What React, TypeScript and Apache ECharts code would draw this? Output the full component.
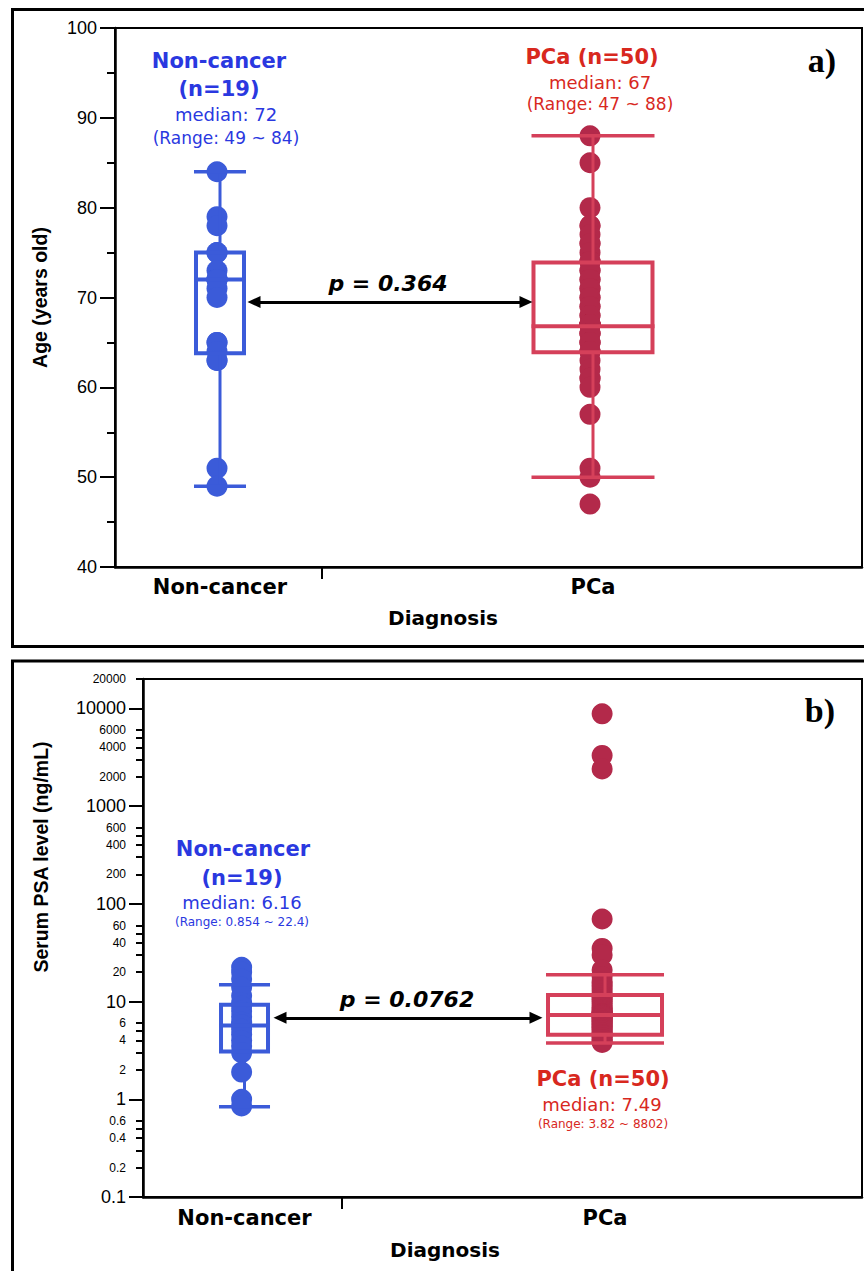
import React, { useEffect, useRef } from "react";
import * as echarts from "echarts";

// ---------------- data ----------------
const CATEGORIES = ["Non-cancer", "PCa"];
const CATEGORY_POS = [1, 2];

const AGE_NONCANCER = [84, 79, 78, 75, 75, 73, 72, 72, 72, 72, 71, 70, 65, 65, 64, 63, 63, 51, 49];
const AGE_PCA = [
  88, 85, 80, 78, 78, 77, 76, 76, 75, 74, 74, 74, 73, 73, 72, 72, 71, 71, 70, 70,
  69, 69, 68, 68, 67, 67, 67, 67, 67, 67, 67, 67, 66, 66, 66, 65, 65, 65, 64, 64,
  64, 63, 62, 61, 61, 60, 57, 51, 50, 47,
];
// [whisker low, Q1, median, Q3, whisker high]
const AGE_BOX_NONCANCER = [49, 63.8, 72, 75, 84];
const AGE_BOX_PCA = [50, 63.9, 66.8, 73.9, 88];

const PSA_NONCANCER = [22.4, 20, 17, 14, 11.5, 9.8, 9, 8, 7, 6.16, 5.8, 5.2, 4.6, 4, 3.5, 3, 1.9, 1, 0.854];
const PSA_PCA = [
  8802, 3300, 2400, 70, 35, 30, 21, 18, 16, 15, 14, 13, 12, 11.5, 11, 10.5, 10, 9.5, 9.0, 8.6,
  8.3, 8.0, 7.8, 7.6, 7.5, 7.48, 7.45, 7.4, 7.35, 7.3, 7.2, 7.1, 7.0, 6.8, 6.6, 6.4, 6.2, 6.0,
  5.8, 5.6, 5.4, 5.2, 5.0, 4.8, 4.6, 4.5, 4.3, 4.1, 3.9, 3.82,
];
const PSA_BOX_NONCANCER = [0.84, 3.08, 5.7, 9.27, 14.9];
const PSA_BOX_PCA = [3.76, 4.57, 7.3, 11.7, 18.8];

const AGE_TICKS = { min: 40, max: 100, interval: 10 };
const PSA_MAJOR_TICKS = [0.1, 1, 10, 100, 1000, 10000];
const PSA_MINOR_LABELED = [0.2, 0.4, 0.6, 2, 4, 6, 20, 40, 60, 200, 400, 600, 2000, 4000, 6000, 20000];
const PSA_MINOR_UNLABELED = [0.3, 0.5, 3, 5, 30, 50, 300, 500, 3000, 5000];

const AGE_P = "p = 0.364";
const PSA_P = "p = 0.0762";
const ARROW_AGE = { from: 1.0912, to: 1.8204, y: 69.5 };
const ARROW_PSA = { from: 1.0985, to: 1.8086, y: 6.82 };

// ---------------- style ----------------
const BLUE_TEXT = "#2a38e0";
const BLUE_MARK = "#3b5bd9";
const RED_TEXT = "#d8281e";
const RED_DOT = "#b3294a";
const RED_BOX = "#d5405a";
const ANNOT_FONT = "DejaVu Sans";
const AXIS_FONT = "Liberation Sans";
const DOT_DX = -0.008;

function boxRenderer(widths: number[], colors: string[]) {
  return (params: any, api: any) => {
    const idx = params.dataIndex;
    const x = api.value(0);
    const ys = [1, 2, 3, 4, 5].map((i) => api.coord([x, api.value(i)])[1]);
    const cx = api.coord([x, api.value(3)])[0];
    const [yLo, yQ1, yMed, yQ3, yHi] = ys;
    const hw = widths[idx] / 2;
    const c = colors[idx];
    const bw = 4;
    const ww = 3;
    const st = (lw: number) => ({ stroke: c, lineWidth: lw, fill: "none" });
    return {
      type: "group",
      children: [
        { type: "line", shape: { x1: cx, y1: yHi, x2: cx, y2: yQ3 }, style: st(ww) },
        { type: "line", shape: { x1: cx, y1: yQ1, x2: cx, y2: yLo }, style: st(ww) },
        { type: "line", shape: { x1: cx - hw, y1: yHi, x2: cx + hw, y2: yHi }, style: st(ww + 0.5) },
        { type: "line", shape: { x1: cx - hw, y1: yLo, x2: cx + hw, y2: yLo }, style: st(ww + 0.5) },
        {
          type: "rect",
          shape: { x: cx - hw + bw / 2, y: yQ3, width: 2 * hw - bw, height: yQ1 - yQ3 },
          style: st(bw),
        },
        { type: "line", shape: { x1: cx - hw, y1: yMed, x2: cx + hw, y2: yMed }, style: st(bw) },
      ],
    };
  };
}

function txt(text: string, x: number, y: number, color: string, size: number, weight = "normal", extra: any = {}, rotation = 0) {
  return {
    type: "text",
    x,
    y,
    z: 10,
    rotation,
    style: {
      text,
      fill: color,
      fontSize: size,
      fontWeight: weight,
      fontFamily: ANNOT_FONT,
      align: "center",
      verticalAlign: "middle",
      ...extra,
    },
  };
}

const fmtNum = (v: number) => String(Number(Number(v).toPrecision(6)));

function xAxisCfg(gridIndex: number, min: number, max: number, tickAt: number, margin: number) {
  return {
    type: "value",
    gridIndex,
    min,
    max,
    axisLine: { show: true, onZero: false, lineStyle: { color: "#000", width: 2.5 } },
    axisTick: { show: true, customValues: [tickAt], length: 12, lineStyle: { color: "#000", width: 2 } },
    axisLabel: {
      customValues: CATEGORY_POS,
      formatter: (v: number) => CATEGORIES[Math.round(v) - 1] ?? "",
      fontFamily: ANNOT_FONT,
      fontWeight: "bold",
      fontSize: 21,
      color: "#000",
      margin,
    },
    splitLine: { show: false },
  };
}

const nameStyle = { fontFamily: AXIS_FONT, fontWeight: "bold", fontSize: 19.5, color: "#000" };

const option: any = {
  animation: false,
  grid: [
    { left: 115, top: 28, width: 747, height: 539, show: true, borderColor: "#000", borderWidth: 2 },
    { left: 143, top: 679, width: 719, height: 518, show: true, borderColor: "#000", borderWidth: 2 },
  ],
  xAxis: [xAxisCfg(0, 0.7185, 2.7212, 1.2735, 9), xAxisCfg(1, 0.7184, 2.7129, 1.2705, 10)],
  yAxis: [
    {
      type: "value",
      gridIndex: 0,
      position: "left",
      min: AGE_TICKS.min,
      max: AGE_TICKS.max,
      interval: AGE_TICKS.interval,
      name: "Age (years old)",
      nameLocation: "middle",
      nameRotate: 90,
      nameGap: 65,
      nameTextStyle: nameStyle,
      axisLine: { show: true, onZero: false, lineStyle: { color: "#000", width: 2.5 } },
      axisTick: { show: true, length: 15, lineStyle: { color: "#000", width: 2 } },
      minorTick: { show: true, splitNumber: 2, length: 8, lineStyle: { color: "#000", width: 2 } },
      axisLabel: { fontFamily: AXIS_FONT, fontSize: 18, color: "#000", margin: 18 },
      splitLine: { show: false },
      minorSplitLine: { show: false },
    },
    {
      type: "log",
      logBase: 10,
      gridIndex: 1,
      position: "left",
      min: 0.1,
      max: 20000,
      axisLine: { show: true, onZero: false, lineStyle: { color: "#000", width: 2.5 } },
      axisTick: { show: true, customValues: PSA_MAJOR_TICKS, length: 14, lineStyle: { color: "#000", width: 2 } },
      axisLabel: {
        customValues: PSA_MAJOR_TICKS,
        formatter: fmtNum,
        fontFamily: AXIS_FONT,
        fontSize: 18,
        color: "#000",
        margin: 17,
      },
      splitLine: { show: false },
    },
    {
      type: "log",
      logBase: 10,
      gridIndex: 1,
      position: "left",
      offset: 0,
      min: 0.1,
      max: 20000,
      axisLine: { show: false },
      axisTick: {
        show: true,
        customValues: [...PSA_MINOR_LABELED, ...PSA_MINOR_UNLABELED],
        length: 7,
        lineStyle: { color: "#000", width: 2 },
      },
      axisLabel: {
        customValues: PSA_MINOR_LABELED,
        formatter: fmtNum,
        fontFamily: AXIS_FONT,
        fontSize: 12,
        color: "#000",
        margin: 17,
      },
      splitLine: { show: false },
    },
  ],
  series: [
    {
      type: "scatter",
      xAxisIndex: 0,
      yAxisIndex: 0,
      z: 2,
      symbolSize: 21,
      itemStyle: { color: BLUE_MARK, opacity: 1 },
      data: AGE_NONCANCER.map((v) => [CATEGORY_POS[0] + DOT_DX, v]),
    },
    {
      type: "scatter",
      xAxisIndex: 0,
      yAxisIndex: 0,
      z: 2,
      symbolSize: 21,
      itemStyle: { color: RED_DOT, opacity: 1 },
      data: AGE_PCA.map((v) => [CATEGORY_POS[1] + DOT_DX, v]),
      markLine: {
        silent: true,
        symbol: ["triangle", "triangle"],
        symbolSize: [12, 13],
        label: { show: false },
        lineStyle: { color: "#000", width: 3, type: "solid" },
        data: [[{ coord: [ARROW_AGE.from, ARROW_AGE.y] }, { coord: [ARROW_AGE.to, ARROW_AGE.y] }]],
      },
    },
    {
      type: "custom",
      xAxisIndex: 0,
      yAxisIndex: 0,
      z: 3,
      renderItem: boxRenderer([52, 123], [BLUE_MARK, RED_BOX]),
      encode: { x: 0, y: [1, 2, 3, 4, 5] },
      data: [
        [CATEGORY_POS[0], ...AGE_BOX_NONCANCER],
        [CATEGORY_POS[1], ...AGE_BOX_PCA],
      ],
    },
    {
      type: "scatter",
      xAxisIndex: 1,
      yAxisIndex: 1,
      z: 2,
      symbolSize: 21,
      itemStyle: { color: BLUE_MARK, opacity: 1 },
      data: PSA_NONCANCER.map((v) => [CATEGORY_POS[0] + DOT_DX, v]),
    },
    {
      type: "scatter",
      xAxisIndex: 1,
      yAxisIndex: 1,
      z: 2,
      symbolSize: 21,
      itemStyle: { color: RED_DOT, opacity: 1 },
      data: PSA_PCA.map((v) => [CATEGORY_POS[1] + DOT_DX, v]),
      markLine: {
        silent: true,
        symbol: ["triangle", "triangle"],
        symbolSize: [12, 13],
        label: { show: false },
        lineStyle: { color: "#000", width: 3, type: "solid" },
        data: [[{ coord: [ARROW_PSA.from, ARROW_PSA.y] }, { coord: [ARROW_PSA.to, ARROW_PSA.y] }]],
      },
    },
    {
      type: "custom",
      xAxisIndex: 1,
      yAxisIndex: 1,
      z: 3,
      renderItem: boxRenderer([51, 118], [BLUE_MARK, RED_BOX]),
      encode: { x: 0, y: [1, 2, 3, 4, 5] },
      data: [
        [CATEGORY_POS[0], ...PSA_BOX_NONCANCER],
        [CATEGORY_POS[1], ...PSA_BOX_PCA],
      ],
    },
  ],
  graphic: [
    { type: "rect", z: -1, shape: { x: 12.5, y: 9.5, width: 900, height: 637 }, style: { fill: "none", stroke: "#000", lineWidth: 3 } },
    { type: "rect", z: -1, shape: { x: 12.5, y: 661, width: 900, height: 700 }, style: { fill: "none", stroke: "#000", lineWidth: 3 } },
    // panel a
    txt("Non-cancer", 219, 61, BLUE_TEXT, 21, "bold"),
    txt("(n=19)", 219, 89, BLUE_TEXT, 21, "bold"),
    txt("median: 72", 226, 114, BLUE_TEXT, 18),
    txt("(Range: 49 ~ 84)", 226, 138, BLUE_TEXT, 17),
    txt("PCa (n=50)", 592, 57, RED_TEXT, 21, "bold"),
    txt("median: 67", 600, 82, RED_TEXT, 18),
    txt("(Range: 47 ~ 88)", 600, 104, RED_TEXT, 17),
    txt(AGE_P, 388, 283, "#000", 22, "bold", { fontStyle: "italic" }),
    txt("Diagnosis", 443, 618, "#000", 20, "bold"),
    txt("a)", 836, 60, "#000", 34, "bold", { fontFamily: "Liberation Serif", align: "right" }),
    // panel b
    txt("Serum PSA level (ng/mL)", 41, 857, "#000", 19.5, "bold", { fontFamily: AXIS_FONT }, Math.PI / 2),
    txt("Non-cancer", 243, 849, BLUE_TEXT, 21, "bold"),
    txt("(n=19)", 242, 878, BLUE_TEXT, 21, "bold"),
    txt("median: 6.16", 242, 902, BLUE_TEXT, 18),
    txt("(Range: 0.854 ~ 22.4)", 242, 922, BLUE_TEXT, 12),
    txt("PCa (n=50)", 603, 1079, RED_TEXT, 21, "bold"),
    txt("median: 7.49", 602, 1104, RED_TEXT, 18),
    txt("(Range: 3.82 ~ 8802)", 603, 1124, RED_TEXT, 12),
    txt(PSA_P, 407, 999, "#000", 22, "bold", { fontStyle: "italic" }),
    txt("Diagnosis", 445, 1250, "#000", 20, "bold"),
    txt("b)", 835, 710, "#000", 34, "bold", { fontFamily: "Liberation Serif", align: "right" }),
  ],
};

export default function App() {
  const ref = useRef<HTMLDivElement>(null);
  useEffect(() => {
    document.body.style.margin = "0";
    const chart = echarts.init(ref.current!, null, { renderer: "svg" });
    chart.setOption(option);
    return () => chart.dispose();
  }, []);
  return <div ref={ref} style={{ width: 864, height: 1271, background: "#fff" }} />;
}
